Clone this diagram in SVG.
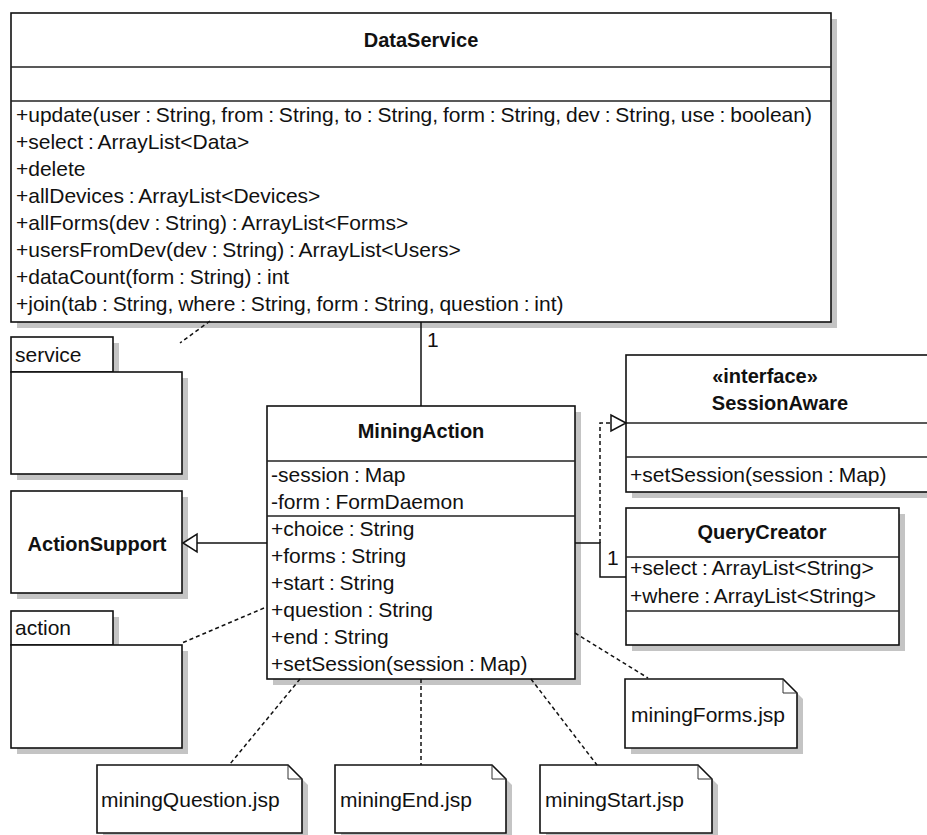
<svg xmlns="http://www.w3.org/2000/svg" width="927" height="835" viewBox="0 0 927 835">
  <style>
    .shadow { fill: #c4c4c4; stroke: none; }
    .box { fill: #ffffff; stroke: #111111; stroke-width: 1.6; }
    .sep { stroke: #222222; stroke-width: 1.5; fill: none; }
    .fold { stroke: #333333; stroke-width: 1; fill: none; }
    .t { font-family: "Liberation Sans", Arial, sans-serif; font-size: 21px; fill: #111111; word-spacing: -1px; }
    .b { font-family: "Liberation Sans", Arial, sans-serif; font-size: 20px; font-weight: bold; fill: #111111; text-anchor: middle; }
    .conn { stroke: #111111; stroke-width: 1.5; fill: none; }
    .dash { stroke-dasharray: 4 3; }
    .head { fill: #ffffff; stroke: #111111; stroke-width: 1.5; }
  </style>

  <rect width="927" height="835" fill="#ffffff"/>

  <!-- DataService class -->
  <g id="DataService">
    <rect class="shadow" x="17" y="19" width="820" height="309"/>
    <rect class="box" x="11" y="13" width="820" height="309"/>
    <line class="sep" x1="11" y1="67" x2="831" y2="67"/>
    <line class="sep" x1="11" y1="101" x2="831" y2="101"/>
    <text class="b" x="421" y="47">DataService</text>
    <text class="t" x="16" y="122">+update(user : String, from : String, to : String, form : String, dev : String, use : boolean)</text>
    <text class="t" x="16" y="149">+select : ArrayList&lt;Data&gt;</text>
    <text class="t" x="16" y="176">+delete</text>
    <text class="t" x="16" y="203">+allDevices : ArrayList&lt;Devices&gt;</text>
    <text class="t" x="16" y="230">+allForms(dev : String) : ArrayList&lt;Forms&gt;</text>
    <text class="t" x="16" y="257">+usersFromDev(dev : String) : ArrayList&lt;Users&gt;</text>
    <text class="t" x="16" y="284">+dataCount(form : String) : int</text>
    <text class="t" x="16" y="311">+join(tab : String, where : String, form : String, question : int)</text>
  </g>

  <!-- service package -->
  <g id="servicePackage">
    <rect class="shadow" x="17" y="343" width="102" height="35"/>
    <rect class="shadow" x="17" y="378" width="171" height="102"/>
    <rect class="box" x="11" y="337" width="102" height="35"/>
    <rect class="box" x="11" y="372" width="171" height="102"/>
    <text class="t" x="15" y="362">service</text>
  </g>

  <!-- MiningAction class -->
  <g id="MiningAction">
    <rect class="shadow" x="273" y="412" width="308" height="273"/>
    <rect class="box" x="267" y="406" width="308" height="273"/>
    <line class="sep" x1="267" y1="461" x2="575" y2="461"/>
    <line class="sep" x1="267" y1="516" x2="575" y2="516"/>
    <text class="b" x="421" y="438">MiningAction</text>
    <text class="t" x="271" y="482">-session : Map</text>
    <text class="t" x="271" y="509">-form : FormDaemon</text>
    <text class="t" x="271" y="536">+choice : String</text>
    <text class="t" x="271" y="563">+forms : String</text>
    <text class="t" x="271" y="590">+start : String</text>
    <text class="t" x="271" y="617">+question : String</text>
    <text class="t" x="271" y="644">+end : String</text>
    <text class="t" x="271" y="671">+setSession(session : Map)</text>
  </g>

  <!-- ActionSupport class -->
  <g id="ActionSupport">
    <rect class="shadow" x="17" y="497" width="171" height="102"/>
    <rect class="box" x="11" y="491" width="171" height="102"/>
    <text class="b" x="97" y="551">ActionSupport</text>
  </g>

  <!-- action package -->
  <g id="actionPackage">
    <rect class="shadow" x="17" y="617" width="102" height="34"/>
    <rect class="shadow" x="17" y="651" width="171" height="103"/>
    <rect class="box" x="11" y="611" width="102" height="34"/>
    <rect class="box" x="11" y="645" width="171" height="103"/>
    <text class="t" x="15" y="635">action</text>
  </g>

  <!-- SessionAware interface -->
  <g id="SessionAware">
    <rect class="shadow" x="632" y="361" width="320" height="137"/>
    <rect class="box" x="626" y="355" width="320" height="137"/>
    <line class="sep" x1="626" y1="423" x2="946" y2="423"/>
    <line class="sep" x1="626" y1="457" x2="946" y2="457"/>
    <text class="b" x="765" y="383">«interface»</text>
    <text class="b" x="780" y="410">SessionAware</text>
    <text class="t" x="630" y="482">+setSession(session : Map)</text>
  </g>

  <!-- QueryCreator class -->
  <g id="QueryCreator">
    <rect class="shadow" x="632" y="514" width="273" height="137"/>
    <rect class="box" x="626" y="508" width="273" height="137"/>
    <line class="sep" x1="626" y1="557" x2="899" y2="557"/>
    <line class="sep" x1="626" y1="611" x2="899" y2="611"/>
    <text class="b" x="762" y="539">QueryCreator</text>
    <text class="t" x="630" y="575">+select : ArrayList&lt;String&gt;</text>
    <text class="t" x="630" y="603">+where : ArrayList&lt;String&gt;</text>
  </g>

  <!-- JSP notes -->
  <g id="miningForms">
    <path class="shadow" d="M631,685 H789 L803,699 V754 H631 Z"/>
    <path class="box" d="M625,679 H783 L797,693 V748 H625 Z"/>
    <path class="fold" d="M783,679 V693 H797"/>
    <text class="t" x="631" y="722">miningForms.jsp</text>
  </g>

  <g id="miningStart">
    <path class="shadow" d="M546,771 H704 L718,785 V839 H546 Z"/>
    <path class="box" d="M540,765 H698 L712,779 V833 H540 Z"/>
    <path class="fold" d="M698,765 V779 H712"/>
    <text class="t" x="545" y="807">miningStart.jsp</text>
  </g>

  <g id="miningEnd">
    <path class="shadow" d="M341,771 H498 L512,785 V839 H341 Z"/>
    <path class="box" d="M335,765 H492 L506,779 V833 H335 Z"/>
    <path class="fold" d="M492,765 V779 H506"/>
    <text class="t" x="340" y="807">miningEnd.jsp</text>
  </g>

  <g id="miningQuestion">
    <path class="shadow" d="M103,771 H294 L308,785 V839 H103 Z"/>
    <path class="box" d="M97,765 H288 L302,779 V833 H97 Z"/>
    <path class="fold" d="M288,765 V779 H302"/>
    <text class="t" x="101" y="807">miningQuestion.jsp</text>
  </g>

  <!-- connectors -->
  <g id="connectors">
    <!-- association DataService - MiningAction -->
    <path class="conn" d="M421,322 V406"/>
    <text class="t" x="427" y="347">1</text>

    <!-- generalization MiningAction -> ActionSupport -->
    <path class="conn" d="M267,543 H197"/>
    <polygon class="head" points="183,543 197,534 197,552"/>

    <!-- association MiningAction - QueryCreator -->
    <path class="conn" d="M575,543 H600 V577 H626"/>
    <text class="t" x="607" y="565">1</text>

    <!-- realization MiningAction -> SessionAware -->
    <path class="conn dash" d="M600,543 V423 H611"/>
    <polygon class="head" points="626,423 611,415 611,431"/>

    <!-- dependencies -->
    <path class="conn dash" d="M210,321 L180,343"/>
    <path class="conn dash" d="M264,608 L182,643"/>
    <path class="conn dash" d="M575,633 L648,678"/>
    <path class="conn dash" d="M531,679 L597,765"/>
    <path class="conn dash" d="M421,679 V765"/>
    <path class="conn dash" d="M300,679 L230,764"/>
  </g>
</svg>
